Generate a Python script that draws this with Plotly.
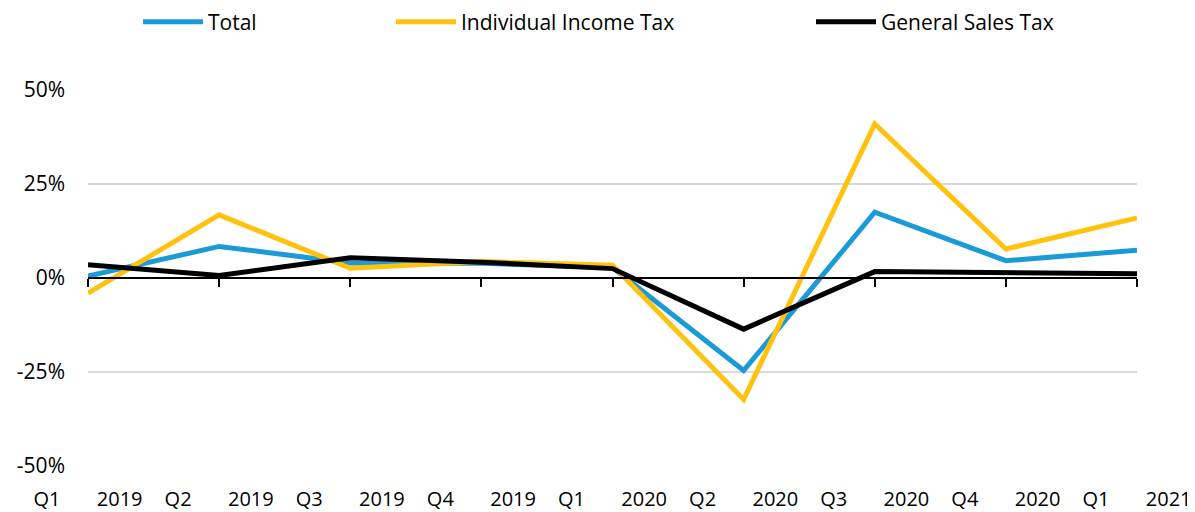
import plotly.graph_objects as go

quarters = ["Q1", "Q2", "Q3", "Q4", "Q1", "Q2", "Q3", "Q4", "Q1"]
years = ["2019", "2019", "2019", "2019", "2020", "2020", "2020", "2020", "2021"]
total = [0.5, 8.4, 4.0, 3.9, 2.8, -24.6, 17.5, 4.6, 7.4]
income_tax = [-4.0, 16.8, 2.6, 4.4, 3.4, -32.3, 41.0, 7.7, 16.0]
sales_tax = [3.5, 0.7, 5.4, 4.2, 2.5, -13.6, 1.7, 1.5, 1.1]

FONT = "Open Sans"
FS = 21
NB = "\u00a0"
labels = [q + NB * 7 + y for q, y in zip(quarters, years)]
xs = list(range(len(labels)))

fig = go.Figure()
series = [
    ("Total", total, "#1a9ad6", "legend"),
    ("Individual Income Tax", income_tax, "#ffc20e", "legend2"),
    ("General Sales Tax", sales_tax, "#000000", "legend3"),
]
for name, vals, col, lg in series:
    fig.add_trace(go.Scatter(x=xs, y=vals, name=name, mode="lines",
                             line=dict(color=col, width=5), legend=lg,
                             xaxis="x", yaxis="y"))

# page body has an 8px margin, so the figure is drawn offset by 8px
OFF = 8
W, H = 1195 - OFF, 512 - OFF
ml, mr, mt, mb = 88 - OFF, 58, 90 - OFF, 46

leg_common = dict(orientation="h", yanchor="middle", xanchor="left",
                  xref="container", yref="container", y=1 - 14 / H,
                  font=dict(family=FONT, size=FS, color="#000"),
                  itemwidth=60, bgcolor="rgba(0,0,0,0)")

fig.update_layout(
    width=W, height=H,
    margin=dict(l=ml, r=mr, t=mt, b=mb, autoexpand=False),
    plot_bgcolor="white", paper_bgcolor="white",
    font=dict(family=FONT, size=FS, color="#000"),
    legend=dict(x=(138 - OFF) / W, **leg_common),
    legend2=dict(x=(391 - OFF) / W, **leg_common),
    legend3=dict(x=(811 - OFF) / W, **leg_common),
    xaxis=dict(range=[0, 8], anchor="free", position=0.5, showline=True,
               linecolor="#000", linewidth=2, ticks="outside", ticklen=8,
               tickwidth=2, tickcolor="#000", tickvals=xs,
               showticklabels=False, showgrid=False, zeroline=False,
               automargin=False),
    xaxis2=dict(range=[0, 8], overlaying="x", anchor="y", side="bottom",
                tickvals=xs, ticktext=labels, tickangle=0, showline=False,
                showgrid=False, zeroline=False, ticks="",
                ticklabelstandoff=19, automargin=False,
                ticklabeloverflow="allow",
                tickfont=dict(family=FONT, size=20, color="#000")),
    yaxis=dict(range=[-50, 50], tickvals=[-50, -25, 0, 25, 50],
               ticktext=["-50%", "-25%", "0%", "25%", "50%"],
               showgrid=True, gridcolor="#d9d9d9", gridwidth=2,
               zeroline=False, showline=False, ticks="",
               ticklabelstandoff=22, automargin=False,
               tickfont=dict(family=FONT, size=FS, color="#000")),
)
# helper trace to activate the bottom label axis
fig.add_trace(go.Scatter(x=[0], y=[None], xaxis="x2", yaxis="y",
                         showlegend=False, hoverinfo="skip"))

fig.write_html("out.html")
